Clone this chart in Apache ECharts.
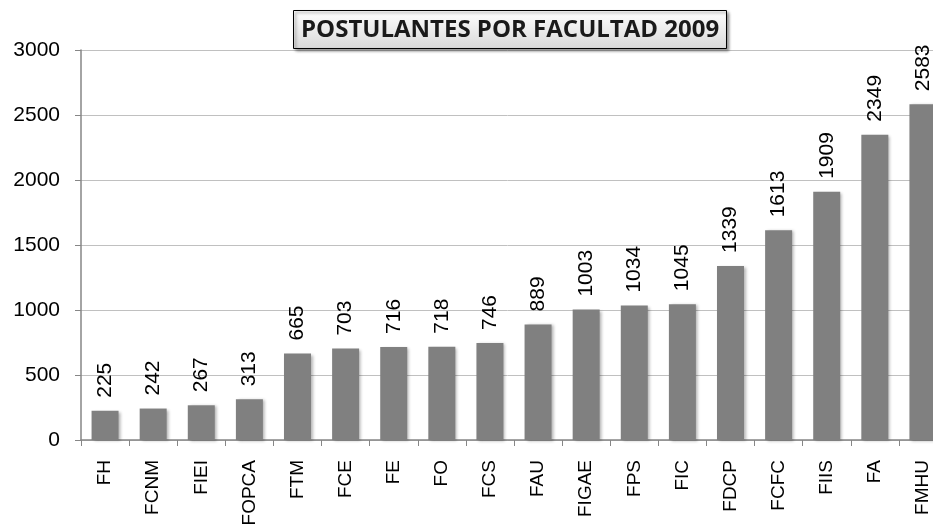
<!DOCTYPE html>
<html>
<head>
<meta charset="utf-8">
<script src="https://cdn.jsdelivr.net/npm/echarts@6/dist/echarts.min.js"></script>
<style>
html, body { margin: 0; padding: 0; background: #fff; }
#chart { width: 933px; height: 524px; }
</style>
</head>
<body>
<div id="chart"></div>
<script>
var facultades = ['FH', 'FCNM', 'FIEI', 'FOPCA', 'FTM', 'FCE', 'FE', 'FO', 'FCS',
	'FAU', 'FIGAE', 'FPS', 'FIC', 'FDCP', 'FCFC', 'FIIS', 'FA', 'FMHU'];
var postulantes = [225, 242, 267, 313, 665, 703, 716, 718, 746,
	889, 1003, 1034, 1045, 1339, 1613, 1909, 2349, 2583];
var yTicks = [0, 500, 1000, 1500, 2000, 2500, 3000];

var myChart = echarts.init(document.getElementById('chart'));
var fuente = 'Liberation Sans, Arial, sans-serif';

var option = {
	animation: false,
	title: {
		text: 'POSTULANTES POR FACULTAD 2009',
		left: 293,
		top: 10,
		padding: [6, 8, 5, 8],
		borderColor: '#000',
		borderWidth: 1,
		backgroundColor: new echarts.graphic.LinearGradient(0, 0, 0, 1, [
			{ offset: 0, color: '#ffffff' },
			{ offset: 1, color: '#d9d9d9' }
		]),
		shadowColor: 'rgba(0,0,0,0.45)',
		shadowBlur: 3,
		shadowOffsetX: 2,
		shadowOffsetY: 2,
		textStyle: {
			fontFamily: 'Open Sans, Noto Sans, sans-serif',
			fontWeight: 'bold',
			fontSize: 24,
			lineHeight: 28,
			color: '#1a1a1a'
		}
	},
	grid: {
		left: 81,
		top: 50,
		width: 866,
		height: 390,
		outerBoundsMode: 'none',
		containLabel: false
	},
	xAxis: {
		type: 'category',
		data: facultades,
		axisLine: { lineStyle: { color: '#868686', width: 1.5 } },
		axisTick: { show: true, length: 6, lineStyle: { color: '#868686' } },
		axisLabel: {
			rotate: 90,
			margin: 20,
			interval: 0,
			fontFamily: fuente,
			fontSize: 19,
			color: '#000'
		}
	},
	yAxis: {
		type: 'value',
		min: yTicks[0],
		max: yTicks[yTicks.length - 1],
		interval: 500,
		axisLine: { show: true, lineStyle: { color: '#868686', width: 1.5 } },
		axisTick: { show: true, length: 6, lineStyle: { color: '#868686' } },
		axisLabel: {
			margin: 21,
			fontFamily: fuente,
			fontSize: 21,
			color: '#000',
			formatter: function (v) { return String(v); }
		},
		splitLine: { lineStyle: { color: '#c0c0c0', width: 1 } }
	},
	series: [{
		type: 'bar',
		data: postulantes,
		barWidth: 27,
		itemStyle: {
			color: '#808080',
			shadowColor: 'rgba(0,0,0,0.3)',
			shadowBlur: 3,
			shadowOffsetX: 2,
			shadowOffsetY: 1
		},
		label: {
			show: true,
			position: 'top',
			rotate: 90,
			align: 'left',
			verticalAlign: 'middle',
			distance: 13,
			fontFamily: fuente,
			fontSize: 21,
			color: '#000'
		}
	}]
};
myChart.setOption(option);
</script>
</body>
</html>
